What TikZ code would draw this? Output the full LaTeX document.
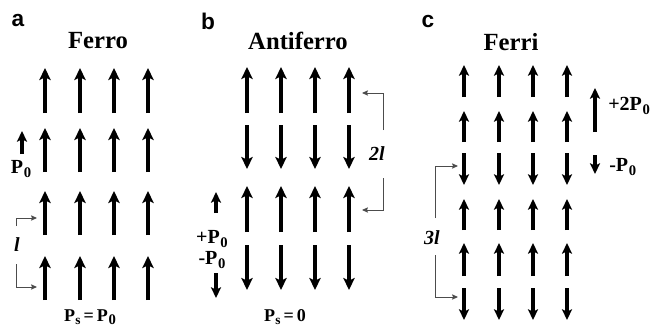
\documentclass[tikz,border=0pt]{standalone}
\usepackage{fontspec}
\setmainfont{Liberation Serif}
\newfontfamily\panelfont{Liberation Sans}
\usetikzlibrary{arrows.meta}
\newcommand{\Psub}[1]{P\kern0.5pt\raisebox{-0.35ex}{\fontsize{11}{11}\selectfont #1}}
\begin{document}
\begin{tikzpicture}[x=0.75pt,y=-0.75pt,
  spin/.style={line width=2.7pt,-{Stealth[length=9pt,width=8.5pt,inset=2pt]}},
  thinspin/.style={line width=2.4pt,-{Stealth[length=8pt,width=7.5pt,inset=1.8pt]}},
  bracket/.style={line width=0.7pt,draw=black!70,-{Stealth[length=4.5pt,width=4pt,inset=0.8pt]}},
  panel/.style={font=\panelfont\bfseries\fontsize{17}{17}\selectfont},
  title/.style={font=\bfseries\fontsize{18.5}{19}\selectfont},
  legend/.style={font=\bfseries\fontsize{15}{15}\selectfont, inner sep=0pt},
  total/.style={font=\bfseries\fontsize{13.5}{14}\selectfont, inner sep=0pt},
  period/.style={font=\bfseries\itshape\fontsize{15}{15}\selectfont, inner sep=0pt}]
\useasboundingbox (0,0) rectangle (663,333);

% ---------- (a) ferroelectric ----------
\node[panel] (la) at (18,21) {a};
\node[title] (ta) at (98,41) {Ferro};
\foreach \x in {45,80,114,148}
  \foreach \top/\bot in {68/113,128/172,191/235,256/300}
    \draw[spin] (\x,\bot) -- (\x,\top);
\coordinate (pa1) at (22,154);
\coordinate (pa2) at (22,131);
\draw[thinspin] (pa1) -- (pa2);
\node[legend] (p0a) at (21,169) {\Psub{0}};
\coordinate (la1) at (16,226);
\coordinate (la2) at (16,218);
\coordinate (la3) at (37,218);
\draw[bracket] (la1) -- (la2) -- (la3);
\coordinate (lb1) at (16,264);
\coordinate (lb2) at (16,287);
\coordinate (lb3) at (37,287);
\draw[bracket] (lb1) -- (lb2) -- (lb3);
\node[period] (pera) at (17,245) {l};
\node[total] (psa) at (90,317) {P\kern0.3pt\raisebox{-0.35ex}{\fontsize{10}{10}\selectfont s}\,=\,\Psub{0}};

% ---------- (b) antiferroelectric ----------
\node[panel] (lbp) at (208,21) {b};
\node[title] (tb) at (298,41) {Antiferro};
\foreach \x in {247,281,315,349} {
  \foreach \top/\bot in {67/113,186/232}
    \draw[spin] (\x,\bot) -- (\x,\top);
  \foreach \top/\bot in {125/169,245/290}
    \draw[spin] (\x,\top) -- (\x,\bot);
}
\coordinate (pb1) at (216,213);
\coordinate (pb2) at (216,192);
\draw[thinspin] (pb1) -- (pb2);
\node[legend] (ppb) at (212,239) {+\Psub{0}};
\node[legend] (pmb) at (212,260) {-\Psub{0}};
\coordinate (pb3) at (216,273);
\coordinate (pb4) at (216,298);
\draw[thinspin] (pb3) -- (pb4);
\coordinate (ba1) at (383,130);
\coordinate (ba2) at (383,93);
\coordinate (ba3) at (362,93);
\draw[bracket] (ba1) -- (ba2) -- (ba3);
\coordinate (bb1) at (383,178);
\coordinate (bb2) at (383,210);
\coordinate (bb3) at (362,210);
\draw[bracket] (bb1) -- (bb2) -- (bb3);
\node[period] (perb) at (377,154) {2l};
\node[total] (psb) at (285,317) {P\kern0.3pt\raisebox{-0.35ex}{\fontsize{10}{10}\selectfont s}\,=\,0};

% ---------- (c) ferrielectric ----------
\node[panel] (lc) at (428,22) {c};
\node[title] (tc) at (511,42) {Ferri};
\foreach \x in {464,499,533,567} {
  \foreach \top/\bot in {65/97,111/142,199/230,243/276}
    \draw[thinspin] (\x,\bot) -- (\x,\top);
  \foreach \top/\bot in {153/185,288/320}
    \draw[thinspin] (\x,\top) -- (\x,\bot);
}
\coordinate (pc1) at (595,132);
\coordinate (pc2) at (595,88);
\draw[thinspin] (pc1) -- (pc2);
\node[legend, anchor=west] (ppc) at (608,106) {+2\Psub{0}};
\coordinate (pc3) at (595,155);
\coordinate (pc4) at (595,174);
\draw[thinspin] (pc3) -- (pc4);
\node[legend, anchor=west] (pmc) at (609,167) {-\Psub{0}};
\coordinate (ca1) at (435,218);
\coordinate (ca2) at (435,166);
\coordinate (ca3) at (458,166);
\draw[bracket] (ca1) -- (ca2) -- (ca3);
\coordinate (cb1) at (435,255);
\coordinate (cb2) at (435,297);
\coordinate (cb3) at (458,297);
\draw[bracket] (cb1) -- (cb2) -- (cb3);
\node[period] (perc) at (432,238) {3l};
\end{tikzpicture}
\end{document}
